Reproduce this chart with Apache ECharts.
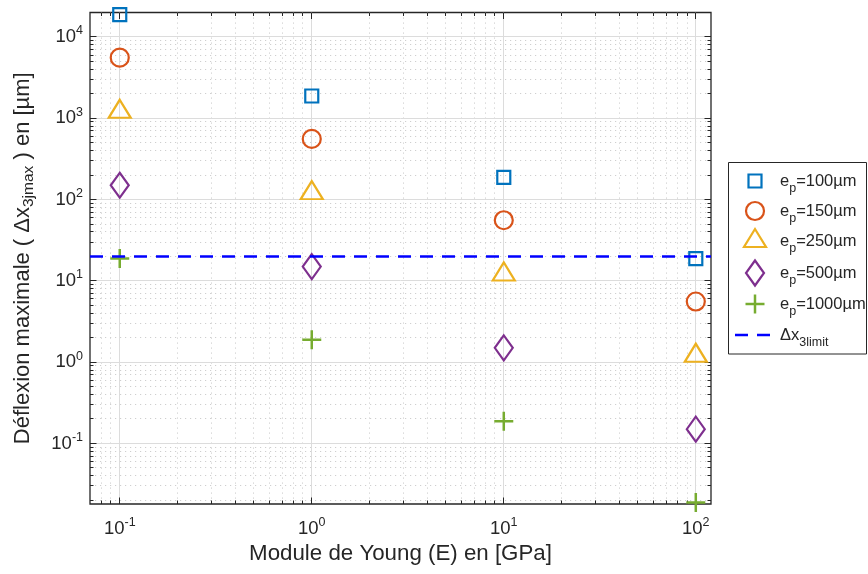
<!DOCTYPE html>
<html>
<head>
<meta charset="utf-8">
<script src="https://cdn.jsdelivr.net/npm/echarts@6/dist/echarts.min.js"></script>
<style>
  html, body { margin: 0; padding: 0; background: #ffffff; }
  #chart { width: 868px; height: 574px; }
</style>
</head>
<body>
<div id="chart"></div>
<script>
// Young's modulus (GPa)
const modulus = [0.1, 1, 10, 100];
// Maximal deflection (µm) for each plate thickness e_p
const defl100 = [18800, 1880, 188, 18.8];
const defl150 = [5570, 557, 55.7, 5.57];
const defl250 = [1200, 120, 12.0, 1.20];
const defl500 = [150, 15.0, 1.50, 0.150];
const defl1000 = [18.8, 1.88, 0.188, 0.0188];
// Allowed deflection (µm)
const deflLimit = 20;

// Thickness labels (µm) shown in the legend
const thicknessLabels = ['100', '150', '250', '500', '1000'];
const limitLabel = 'Δx{sub|3limit}';

// Axis ranges and decade ticks
const xMin = 0.07, xMax = 120;
const yMin = 0.018, yMax = 20000;
const xDecades = [0.1, 1, 10, 100];
const yDecades = [0.1, 1, 10, 100, 1000, 10000];

const FONT = "'Liberation Sans', Arial, Helvetica, sans-serif";
const INK = '#262626';
const COLORS = ['#0072BD', '#D95319', '#EDB120', '#7E2F8E', '#77AC30'];
const LIMIT_COLOR = '#0000FF';

// minor ticks: 2..9 times each power of ten inside the range
function minorValues(lo, hi) {
  const vals = [];
  for (let d = Math.floor(Math.log10(lo)); d <= Math.ceil(Math.log10(hi)); d++) {
    for (let m = 2; m <= 9; m++) {
      const v = m * Math.pow(10, d);
      if (v > lo * 1.0001 && v < hi * 0.9999) vals.push(v);
    }
  }
  return vals;
}
const xMinor = minorValues(xMin, xMax);
const yMinor = minorValues(yMin, yMax);

const pairs = ys => modulus.map((x, i) => [x, ys[i]]);

const supLabel = v => '{b|10}{sup|' + Math.round(Math.log10(v)) + '}';
const labelRich = {
  b: { fontSize: 18.5, lineHeight: 25, color: INK, fontFamily: FONT },
  sup: { fontSize: 12.5, verticalAlign: 'top', color: INK, fontFamily: FONT }
};

const crisp = p => Math.round(p - 0.5) + 0.5;

// Grid lines (major solid, minor dotted) and inward ticks on all four sides
const frameSeries = {
  type: 'custom',
  silent: true,
  z: 1,
  clip: false,
  data: [[1, 1]],
  encode: { x: 0, y: 1 },
  renderItem: function (params, api) {
    const cs = params.coordSys;
    const L = cs.x, R = cs.x + cs.width, T = cs.y, B = cs.y + cs.height;
    const minorGrid = { stroke: '#cfcfcf', lineWidth: 1, lineDash: [1.2, 3.8] };
    const majorGrid = { stroke: '#dcdcdc', lineWidth: 1 };
    const tick = { stroke: INK, lineWidth: 1 };
    const grids = [], ticks = [];
    const seg = (arr, x1, y1, x2, y2, style) =>
      arr.push({ type: 'line', shape: { x1: x1, y1: y1, x2: x2, y2: y2 }, style: style });
    const MAJ = 6.5, MIN = 3.5;
    xMinor.forEach(v => {
      const px = crisp(api.coord([v, 1])[0]);
      seg(grids, px, T, px, B, minorGrid);
      seg(ticks, px, B, px, B - MIN, tick);
      seg(ticks, px, T, px, T + MIN, tick);
    });
    yMinor.forEach(v => {
      const py = crisp(api.coord([1, v])[1]);
      seg(grids, L, py, R, py, minorGrid);
      seg(ticks, L, py, L + MIN, py, tick);
      seg(ticks, R, py, R - MIN, py, tick);
    });
    xDecades.forEach(v => {
      const px = crisp(api.coord([v, 1])[0]);
      seg(grids, px, T, px, B, majorGrid);
      seg(ticks, px, B, px, B - MAJ, tick);
      seg(ticks, px, T, px, T + MAJ, tick);
    });
    yDecades.forEach(v => {
      const py = crisp(api.coord([1, v])[1]);
      seg(grids, L, py, R, py, majorGrid);
      seg(ticks, L, py, L + MAJ, py, tick);
      seg(ticks, R, py, R - MAJ, py, tick);
    });
    return { type: 'group', children: grids.concat(ticks) };
  }
};

const MARK_W = 2.2;
const markerStyle = (color, width) => ({
  color: 'rgba(0,0,0,0)', borderColor: color, borderWidth: width || MARK_W, opacity: 1
});
const PLUS = 'path://M0,10L20,10M10,0L10,20';

const scatterSeries = [
  { data: defl100, symbol: 'rect', symbolSize: 13 },
  { data: defl150, symbol: 'circle', symbolSize: 18 },
  { data: defl250, symbol: 'triangle', symbolSize: [22, 18], symbolOffset: [0, -3] },
  { data: defl500, symbol: 'diamond', symbolSize: [18, 25] },
  { data: defl1000, symbol: PLUS, symbolSize: 19, width: 2.5 }
].map((s, i) => ({
  type: 'scatter',
  name: 'e_p=' + thicknessLabels[i] + 'µm',
  z: 3,
  data: pairs(s.data),
  symbol: s.symbol,
  symbolSize: s.symbolSize,
  symbolOffset: s.symbolOffset || [0, 0],
  itemStyle: markerStyle(COLORS[i], s.width),
  emphasis: { disabled: true },
  silent: true
}));

const limitSeries = {
  type: 'line',
  name: 'Δx_3limit',
  z: 2,
  data: [],
  silent: true,
  markLine: {
    silent: true,
    symbol: ['none', 'none'],
    label: { show: false },
    emphasis: { disabled: true },
    lineStyle: { color: LIMIT_COLOR, width: 2.5, type: [13, 9], opacity: 1 },
    data: [{ yAxis: deflLimit }]
  }
};

// Legend box drawn as graphic elements
const LEG = { left: 728, top: 162.5, width: 138, height: 191.5, iconX: 755, textX: 780 };
const rowY = [181, 211, 241, 273, 304, 335];
const legendText = (txt, y) => ({
  type: 'text', x: LEG.textX, y: y, z: 10,
  style: {
    text: txt, fill: INK, fontFamily: FONT, fontSize: 16.5, lineHeight: 28,
    verticalAlign: 'middle', align: 'left',
    rich: { sub: { fontSize: 12.5, fontFamily: FONT, fill: INK, verticalAlign: 'bottom' } }
  }
});
const iconStroke = (c, w) => ({ stroke: c, fill: 'none', lineWidth: w || MARK_W });
const cx = LEG.iconX;
const legendIcons = [
  { type: 'rect', shape: { x: cx - 6.5, y: rowY[0] - 6.5, width: 13, height: 13 }, style: iconStroke(COLORS[0]) },
  { type: 'circle', shape: { cx: cx, cy: rowY[1], r: 9 }, style: iconStroke(COLORS[1]) },
  { type: 'polygon', shape: { points: [[cx, rowY[2] - 12], [cx + 11, rowY[2] + 6], [cx - 11, rowY[2] + 6]] }, style: iconStroke(COLORS[2]) },
  { type: 'polygon', shape: { points: [[cx, rowY[3] - 12.5], [cx + 9, rowY[3]], [cx, rowY[3] + 12.5], [cx - 9, rowY[3]]] }, style: iconStroke(COLORS[3]) },
  { type: 'line', shape: { x1: cx - 9.5, y1: rowY[4], x2: cx + 9.5, y2: rowY[4] }, style: iconStroke(COLORS[4], 2.5) },
  { type: 'line', shape: { x1: cx, y1: rowY[4] - 9.5, x2: cx, y2: rowY[4] + 9.5 }, style: iconStroke(COLORS[4], 2.5) },
  { type: 'line', shape: { x1: 735, y1: rowY[5], x2: 770, y2: rowY[5] }, style: { stroke: LIMIT_COLOR, lineWidth: 2.5, lineDash: [13, 9] } }
].map(e => Object.assign({ z: 10, silent: true }, e));

const legendGraphic = [
  { type: 'rect', z: 9, silent: true,
    shape: { x: LEG.left + 0.5, y: LEG.top, width: LEG.width, height: LEG.height },
    style: { fill: '#ffffff', stroke: INK, lineWidth: 1 } }
].concat(legendIcons)
 .concat(thicknessLabels.map((t, i) => legendText('e{sub|p}=' + t + 'µm', rowY[i])))
 .concat([legendText(limitLabel, rowY[5])]);

const chart = echarts.init(document.getElementById('chart'), null, { renderer: 'canvas' });
chart.setOption({
  animation: false,
  backgroundColor: '#ffffff',
  textStyle: { fontFamily: FONT },
  grid: {
    left: 90, right: 157, top: 12.5, bottom: 70,
    show: true, borderColor: INK, borderWidth: 1.3, backgroundColor: '#ffffff',
    containLabel: false, outerBoundsMode: 'none'
  },
  xAxis: {
    type: 'log', logBase: 10, min: xMin, max: xMax,
    axisLine: { show: false }, axisTick: { show: false }, splitLine: { show: false },
    minorTick: { show: false }, minorSplitLine: { show: false },
    axisLabel: {
      customValues: xDecades, margin: 12, color: INK,
      formatter: supLabel, rich: labelRich
    },
    name: 'Module de Young (E) en [GPa]',
    nameLocation: 'middle', nameGap: 36,
    nameTextStyle: { fontSize: 22.3, color: INK, fontFamily: FONT }
  },
  yAxis: {
    type: 'log', logBase: 10, min: yMin, max: yMax,
    axisLine: { show: false }, axisTick: { show: false }, splitLine: { show: false },
    minorTick: { show: false }, minorSplitLine: { show: false },
    axisLabel: {
      customValues: yDecades, margin: 7, color: INK,
      formatter: supLabel, rich: labelRich
    },
    name: 'Déflexion maximale ( Δx{sub|3jmax} ) en [µm]',
    nameLocation: 'middle', nameRotate: 90, nameGap: 53,
    nameTextStyle: {
      fontSize: 22, color: INK, fontFamily: FONT, lineHeight: 29,
      rich: { sub: { fontSize: 15.5, color: INK, fontFamily: FONT, verticalAlign: 'bottom' } }
    }
  },
  graphic: legendGraphic,
  series: [frameSeries, limitSeries].concat(scatterSeries)
});
</script>
</body>
</html>
